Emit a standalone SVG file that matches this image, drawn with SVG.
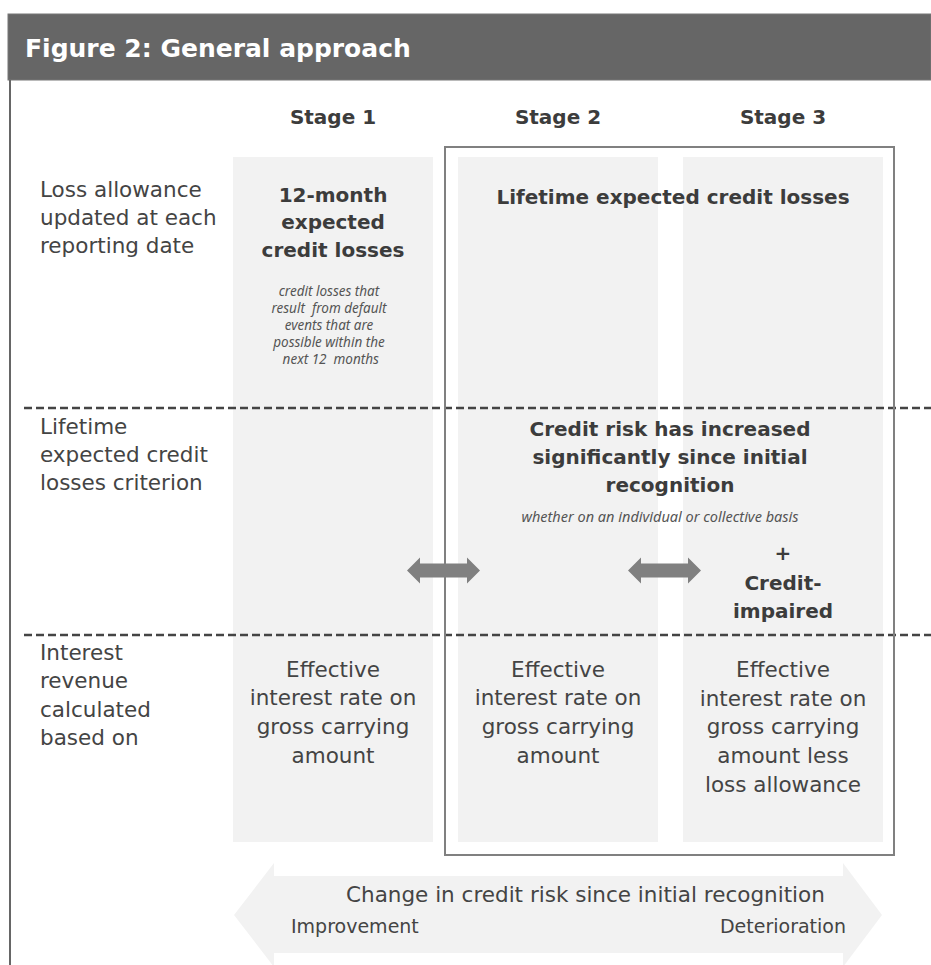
<svg xmlns="http://www.w3.org/2000/svg" width="931" height="965" viewBox="0 0 931 965">
<style>
.lbl{font-family:"DejaVu Sans","Liberation Sans",sans-serif;font-size:21.5px;fill:#444}
.ctr{font-family:"DejaVu Sans","Liberation Sans",sans-serif;font-size:21.5px;fill:#444;text-anchor:middle}
.bold{font-family:"DejaVu Sans","Liberation Sans",sans-serif;font-weight:bold;font-size:20px;fill:#3c3c3c;text-anchor:middle}
.ital{font-family:"Noto Sans","DejaVu Sans",sans-serif;font-style:italic;font-size:13.5px;fill:#555;text-anchor:middle;white-space:pre}
.col{fill:#f2f2f2}
.dash{stroke:#444;stroke-width:2.5;stroke-dasharray:8 4;fill:none}
.arr{fill:#808080}
</style>
<rect width="931" height="965" fill="#fff"/>
<g id="title">
<rect x="8" y="14" width="923" height="66" fill="#666" stroke="#777" stroke-width="1"/>
<text x="25" y="57" style="font-family:'DejaVu Sans','Liberation Sans',sans-serif;font-weight:bold;font-size:25px;fill:#fff">Figure 2: General approach</text>
</g>
<line x1="10" y1="80" x2="10" y2="965" stroke="#666" stroke-width="2"/>
<g id="columns">
<rect class="col" x="233" y="157" width="200" height="685"/>
<rect class="col" x="458" y="157" width="200" height="685"/>
<rect class="col" x="683" y="157" width="200" height="685"/>
</g>
<g id="headers">
<text class="bold" x="333" y="124">Stage 1</text>
<text class="bold" x="558" y="124">Stage 2</text>
<text class="bold" x="783" y="124">Stage 3</text>
</g>
<g id="row-labels">
<text class="lbl" x="40" y="197">Loss allowance</text>
<text class="lbl" x="40" y="225">updated at each</text>
<text class="lbl" x="40" y="253">reporting date</text>
<text class="lbl" x="40" y="434">Lifetime</text>
<text class="lbl" x="40" y="462">expected credit</text>
<text class="lbl" x="40" y="490">losses criterion</text>
<text class="lbl" x="40" y="660">Interest</text>
<text class="lbl" x="40" y="688">revenue</text>
<text class="lbl" x="40" y="717">calculated</text>
<text class="lbl" x="40" y="745">based on</text>
</g>
<g id="connectors">
<line class="dash" x1="24" y1="408" x2="931" y2="408"/>
<line class="dash" x1="24" y1="635" x2="931" y2="635"/>
<path class="arr" d="M407 570.5 L420 557.5 L420 563.5 L467 563.5 L467 557.5 L480 570.5 L467 583.5 L467 577.5 L420 577.5 L420 583.5 Z"/>
<path class="arr" d="M628 570.5 L641 557.5 L641 563.5 L688 563.5 L688 557.5 L701 570.5 L688 583.5 L688 577.5 L641 577.5 L641 583.5 Z"/>
</g>
<g id="stage1">
<text class="bold" x="333" y="202">12-month</text>
<text class="bold" x="333" y="229">expected</text>
<text class="bold" x="333" y="257">credit losses</text>
<text class="ital" x="329" y="296">credit losses that</text>
<text class="ital" x="329" y="313">result  from default</text>
<text class="ital" x="329" y="330">events that are</text>
<text class="ital" x="329" y="347">possible within the</text>
<text class="ital" x="329" y="364"> next 12  months</text>
<text class="ctr" x="333" y="677">Effective</text>
<text class="ctr" x="333" y="705">interest rate on</text>
<text class="ctr" x="333" y="734">gross carrying</text>
<text class="ctr" x="333" y="763">amount</text>
</g>
<g id="stage2-3">
<rect x="445" y="147" width="449" height="708" fill="none" stroke="#808080" stroke-width="2"/>
<text class="bold" x="673" y="204">Lifetime expected credit losses</text>
<text class="bold" x="670" y="436">Credit risk has increased</text>
<text class="bold" x="670" y="464">significantly since initial</text>
<text class="bold" x="670" y="492">recognition</text>
<text class="ital" x="660" y="522" style="font-size:14.5px">whether on an individual or collective basis</text>
</g>
<g id="stage2">
<text class="ctr" x="558" y="677">Effective</text>
<text class="ctr" x="558" y="705">interest rate on</text>
<text class="ctr" x="558" y="734">gross carrying</text>
<text class="ctr" x="558" y="763">amount</text>
</g>
<g id="stage3">
<text class="bold" x="783" y="560">+</text>
<text class="bold" x="783" y="590">Credit-</text>
<text class="bold" x="783" y="618">impaired</text>
<text class="ctr" x="783" y="677">Effective</text>
<text class="ctr" x="783" y="706">interest rate on</text>
<text class="ctr" x="783" y="734">gross carrying</text>
<text class="ctr" x="783" y="763">amount less</text>
<text class="ctr" x="783" y="792">loss allowance</text>
</g>
<g id="risk-arrow">
<path fill="#f2f2f2" d="M234 915 L274 863 L274 876 L843 876 L843 863 L882 915 L843 967 L843 953 L274 953 L274 967 Z"/>
<text class="lbl" x="346" y="902">Change in credit risk since initial recognition</text>
<text class="lbl" x="291" y="933" style="font-size:19px">Improvement</text>
<text class="lbl" x="846" y="933" style="font-size:19px;text-anchor:end">Deterioration</text>
</g>
</svg>
